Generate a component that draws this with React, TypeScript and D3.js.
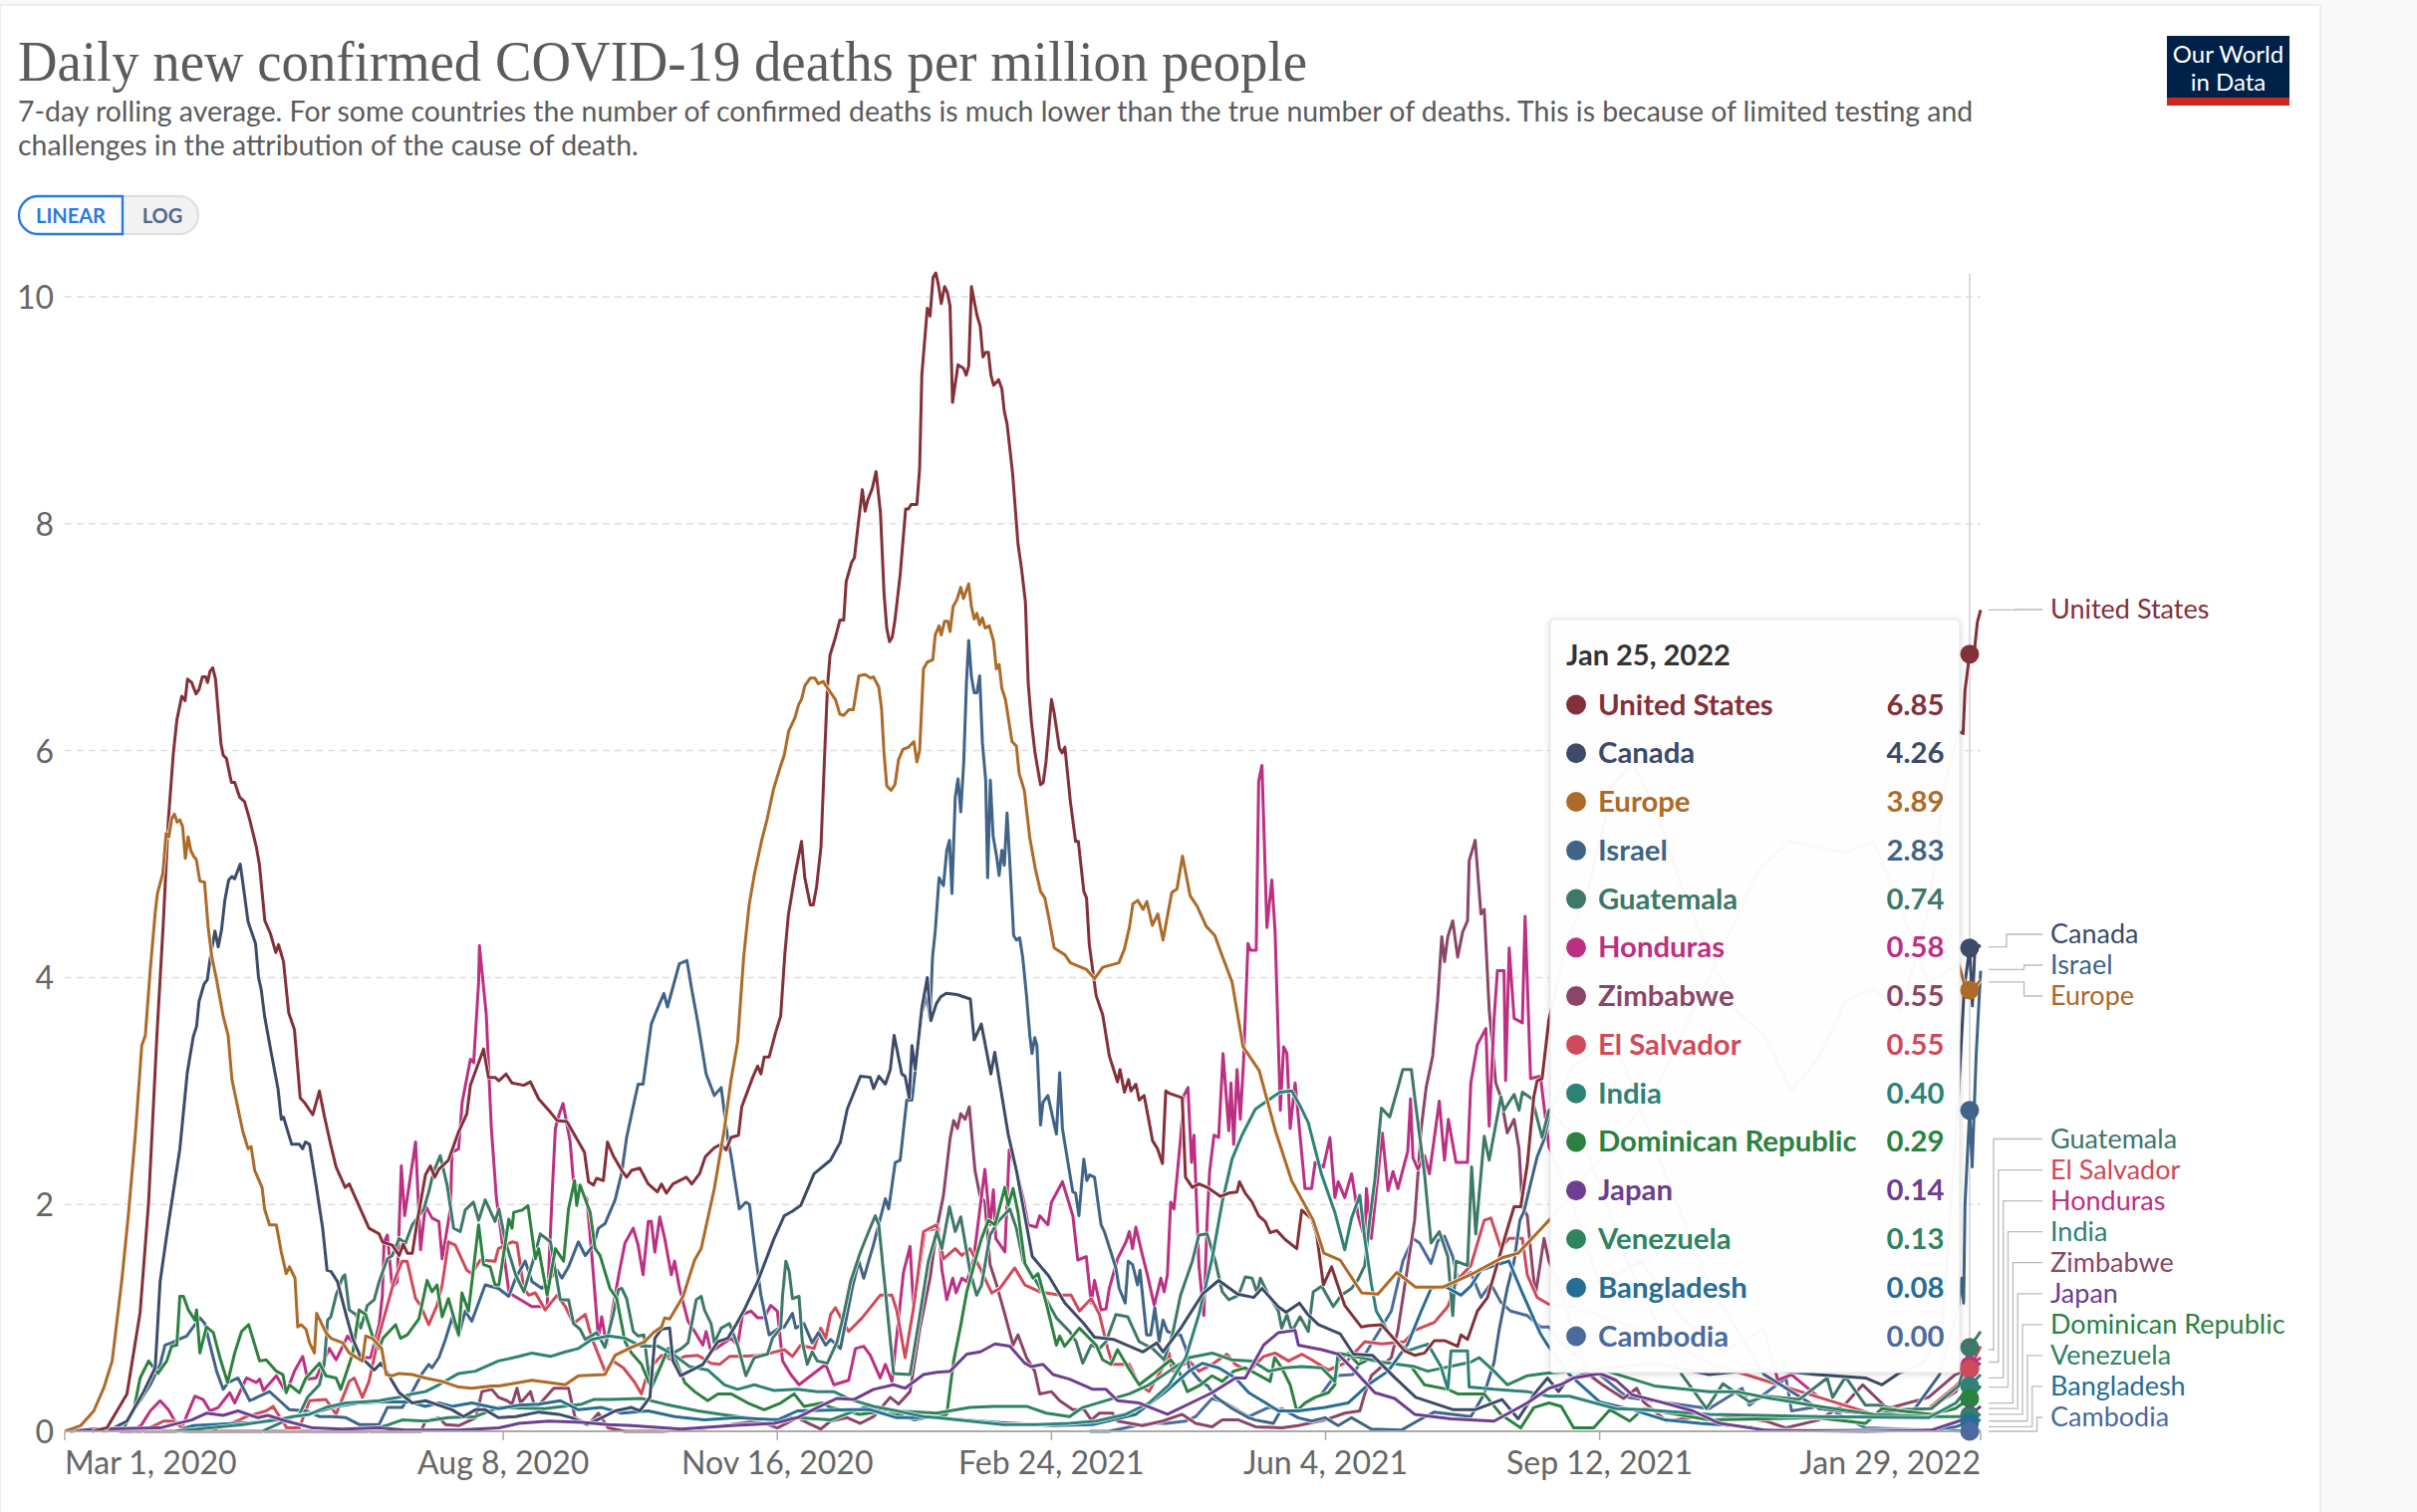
import React from "react";
import * as d3 from "d3";

type Pt = [number, number];

const usValues: Pt[] = [[10,0],[15.4,.03],[22.7,.33],[27.5,1.05],[30.6,2.02],[33.6,3.48],[36,4.5],[37.8,5.39],[39.6,5.97],[40.9,6.27],[42.7,6.48],[43.9,6.44],[44.8,6.63],[46.3,6.6],[47.9,6.5],[49,6.54],[50.2,6.65],[51.4,6.65],[52.1,6.6],[53,6.7],[54,6.73],[55,6.63],[57,6.06],[57.8,5.96],[59,5.93],[60.8,5.72],[62,5.72],[63.8,5.59],[65.6,5.55],[67.5,5.39],[69.9,5.15],[71,5],[73,4.5],[75,4.39],[77,4.22],[78,4.29],[79.8,4.14],[81.7,3.69],[83.8,3.54],[85.9,2.94],[87.4,2.9],[90.5,2.79],[92.9,3],[94.7,2.78],[97.1,2.52],[99,2.33],[102.3,2.15],[103.8,2.18],[111,1.79],[114.7,1.74],[115.9,1.67],[119.5,1.64],[122,1.55],[123.5,1.65],[125,1.57],[126.8,1.57],[128.6,1.85],[131.6,2.26],[133.4,2.34],[135,2.24],[136.5,2.31],[140,2.39],[143.7,2.64],[146.7,2.8],[148,3.05],[152.8,3.37],[154.6,3.12],[157,3.12],[158.4,3.09],[161,3.15],[163.2,3.07],[167.5,3.05],[169.9,3.08],[172.9,2.93],[176.6,2.83],[179.6,2.74],[183.2,2.73],[186.8,2.58],[189.6,2.46],[191.1,2.2],[192.9,2.17],[194,2.23],[196.5,2.21],[198,2.55],[200.1,2.43],[203.2,2.3],[205,2.24],[206.8,2.3],[209.8,2.32],[212.9,2.18],[216.2,2.11],[217.7,2.18],[219.5,2.1],[221.9,2.18],[226.8,2.24],[228.8,2.18],[231.6,2.27],[233.7,2.42],[237,2.5],[239.5,2.53],[241.3,2.48],[243.1,2.59],[245.8,2.61],[247,2.86],[251,3.12],[252.8,3.22],[254,3.15],[255.2,3.3],[257,3.3],[259.4,3.52],[261.2,3.66],[262.7,4.2],[264,4.55],[266.4,4.9],[268.8,5.2],[270,4.88],[272,4.64],[273.1,4.64],[274.3,4.8],[275.9,5.15],[277.3,6],[278.3,6.57],[279.2,6.84],[281.2,7],[282.8,7.15],[284.2,7.15],[285.1,7.49],[287.1,7.66],[288.1,7.7],[289.5,8],[291,8.3],[292,8.11],[293,8.21],[294.6,8.31],[296,8.46],[297.6,8.1],[298.9,7.39],[299.9,7.08],[300.9,6.96],[301.9,7],[302.9,7.15],[304.8,7.55],[306.8,8.13],[307.8,8.13],[308.8,8.17],[310.9,8.17],[311.9,8.49],[312.7,9.31],[314.7,9.9],[315.7,9.83],[316.8,10.17],[317.8,10.21],[318.8,10.1],[319.8,9.94],[321,10.09],[322,10.04],[323,9.92],[323.9,9.07],[325.9,9.4],[327.9,9.37],[328.9,9.31],[329.8,9.39],[330.8,10.09],[332.8,9.84],[334,9.74],[335,9.47],[336,9.51],[337,9.51],[337.9,9.31],[338.9,9.22],[340.7,9.27],[341.9,9.19],[342.8,8.99],[343.8,8.88],[345.8,8.45],[347.8,7.82],[349.1,7.6],[350.5,7.31],[351.5,6.6],[352.7,6.25],[354,5.98],[356,5.7],[357,5.72],[358,5.9],[360,6.45],[361,6.33],[362.9,6.02],[363.9,5.98],[364.9,6.03],[366.9,5.55],[368.8,5.2],[369.8,5.2],[371.8,4.76],[372.8,4.7],[373.8,4.29],[376.3,3.84],[378.7,3.67],[381.1,3.31],[384.1,3.08],[385,3.19],[386.6,2.99],[388.1,3.1],[389,3],[390.8,3.06],[392,2.92],[393.8,2.96],[395.6,2.73],[396.9,2.56],[398.7,2.49],[400.5,2.36],[401.7,3],[402.9,2.98],[407.7,2.94],[408.9,2.24],[411.4,2.15],[413.8,2.18],[416.8,2.15],[421.7,2.07],[424.7,2.1],[427.7,2.11],[428.6,2.2],[430.7,2.1],[433.2,2.02],[435.6,1.9],[438,1.85],[439.8,1.75],[442.2,1.77],[445.3,1.69],[449.5,1.61],[451.3,1.95],[455,1.87],[456.8,1.73],[459.2,1.29],[462.2,1.45],[464,1.32],[467,1.11],[473,.92],[475.5,.93],[480.4,.94],[485.2,.81],[488.8,.71],[492.5,.67],[496.1,.69],[499.7,.8],[503.4,.8],[508.2,.75],[509.4,.85],[511.8,.81],[515.4,1.06],[519.1,1.18],[521.5,1.38],[523.9,1.58],[526.3,1.78],[528.8,1.98],[531.2,1.98],[533.6,2.35],[536,2.95],[537.2,3.09],[539,3.11],[541.5,3.63],[548,4.3],[556,4.8],[565,5.7],[572,5.9],[580,5.5],[590,4.8],[600,4.2],[610,3.7],[620,3.5],[630,3],[640,3.3],[650,3.8],[660,3.9],[670,3.7],[680,4.6],[686,5.7],[691,6.17],[692.6,6.15],[693.3,6.53],[695,6.85],[696.6,6.85],[697.8,7.13],[699,7.24]];

const europeValues: Pt[] = [[0,0],[5.8,.05],[10.6,.18],[14.2,.38],[17.3,.62],[20.9,1.35],[23.3,1.93],[25.7,2.6],[28.1,3.4],[29.4,3.49],[31.2,4.07],[33,4.57],[33.8,4.74],[35.8,4.92],[37,5.27],[38,5.24],[39,5.4],[40,5.44],[41,5.37],[42,5.39],[43,5.33],[44,5.05],[45,5.24],[46,5.12],[47,5.07],[48,5.04],[49.3,4.85],[51,4.84],[52.3,4.45],[53.6,4.19],[55.4,3.98],[57.8,3.66],[59.6,3.49],[61,3.1],[65,2.64],[66.9,2.49],[68,2.51],[69.3,2.3],[72,2.15],[72.9,1.96],[74.7,1.82],[77.2,1.82],[79,1.58],[80.8,1.39],[82,1.45],[84,1.35],[85,.92],[86.2,.94],[88,.9],[89.3,.78],[91.1,.69],[91.9,1.04],[95.3,.87],[97.1,.82],[101.4,.78],[103.8,.69],[108.6,.62],[109.8,.84],[112.2,.82],[115.6,.73],[117.3,.5],[119.5,.49],[122,.51],[126.8,.5],[131.6,.47],[137.6,.44],[143.7,.39],[148.5,.38],[155.8,.4],[158.4,.4],[165.7,.43],[170.5,.45],[176.6,.43],[182.6,.41],[187.4,.49],[197.1,.5],[200.8,.67],[206.8,.74],[211.6,.79],[214.7,.87],[217.7,.92],[218.9,1],[220.7,.99],[225.6,1.19],[229.8,1.51],[232.2,1.61],[237,2.14],[240.7,2.67],[243.1,3.1],[245.5,3.43],[247.7,4.18],[249.7,4.64],[251.7,4.92],[254.2,5.2],[256.2,5.39],[258.6,5.66],[261.1,5.86],[262.5,5.96],[264.1,6.17],[266.4,6.29],[267.8,6.41],[268.8,6.45],[270,6.57],[272,6.64],[273.7,6.64],[274.9,6.59],[276.7,6.61],[278.3,6.55],[281.2,6.45],[282.8,6.32],[284.2,6.31],[286.1,6.36],[287.7,6.36],[289.7,6.66],[292,6.67],[294,6.64],[295,6.65],[297,6.56],[298,6.37],[298.9,5.98],[299.9,5.69],[301.5,5.65],[302.9,5.7],[304.2,5.92],[305.8,6.01],[307.8,6.03],[309.8,6.08],[310.9,5.9],[311.9,6],[313.3,6.72],[314.7,6.78],[316.7,6.8],[317.6,7.02],[319,7.1],[319.8,7.02],[321,7.14],[322.2,7.14],[323,7.05],[324.1,7.27],[325.5,7.33],[326.9,7.44],[327.9,7.34],[329.8,7.47],[330.8,7.27],[331.8,7.16],[332.8,7.21],[333.8,7.11],[334.8,7.17],[335.8,7.08],[337.3,7.1],[338.9,6.96],[339.9,6.72],[340.9,6.76],[341.9,6.55],[343.2,6.45],[345.6,6.08],[347.2,6.04],[348.2,5.8],[350.1,5.65],[352.1,5.23],[354.1,4.96],[356,4.76],[357.6,4.7],[359,4.53],[361,4.26],[364.9,4.2],[366.9,4.13],[372.8,4.07],[375.7,3.99],[378.7,4.09],[384.6,4.13],[386.6,4.25],[388.5,4.45],[389.7,4.65],[391.5,4.68],[393.4,4.6],[394.8,4.67],[396.8,4.46],[398.8,4.56],[400.7,4.33],[403.9,4.75],[405.8,4.78],[407.8,5.07],[410.6,4.72],[413.1,4.63],[416.5,4.45],[419.6,4.37],[422,4.21],[425.9,3.96],[429.9,3.39],[435.8,3.18],[441.7,2.65],[447.6,2.21],[455.5,1.86],[459.4,1.57],[465.3,1.51],[473.2,1.22],[479.1,1.21],[486,1.4],[492.9,1.27],[502.7,1.27],[514.5,1.4],[524.4,1.53],[530.3,1.57],[539.2,1.8],[545,1.95],[560,2.4],[580,3],[600,4],[618,4.95],[629,5.2],[640,5.15],[650,5.1],[660,5.2],[670,4.6],[680,3.95],[691,4.12],[693,3.95],[695,3.89],[697,3.92],[699,3.98]];

const canadaValues: Pt[] = [[14,0],[17.9,.03],[22.7,.09],[28.8,.35],[33,.56],[34.8,1.32],[37.2,1.73],[39.6,2.11],[42,2.49],[44.7,3.16],[46.9,3.48],[48.1,3.57],[49,3.79],[50.8,3.94],[52,3.98],[53.2,4.19],[54.8,4.41],[56,4.27],[57.2,4.42],[58.4,4.68],[59.8,4.86],[61,4.89],[62,4.87],[64,5],[65,4.83],[66.9,4.49],[69.6,4.3],[70.7,4],[71.7,3.89],[72.9,3.66],[75.3,3.34],[77.8,3.02],[79,2.75],[79.8,2.77],[82.8,2.53],[85.6,2.53],[86.8,2.49],[87.8,2.55],[89.3,2.53],[91.7,2.17],[94.1,1.79],[95.7,1.42],[97.1,1.41],[99.5,1.32],[102.6,1.03],[105,.82],[108,.65],[110.4,.6],[112.9,.54],[115.3,.6],[117.7,.52],[119.5,.44],[122,.34],[126.8,.25],[131.6,.27],[137.6,.22],[141.3,.19],[145.5,.13],[149.8,.19],[153.4,.19],[158.2,.12],[164.5,.13],[173,.17],[180.2,.15],[185,.12],[190.5,.06],[195.9,.12],[200.8,.18],[206.8,.21],[209.8,.18],[213.5,.3],[214.3,.53],[215.3,.82],[217.7,.9],[220.7,.91],[221.9,.62],[224.7,.49],[228,.53],[232.8,.59],[238.3,.79],[241.9,.82],[244.9,.94],[247.9,1.07],[252.8,1.32],[258.8,1.7],[262.5,1.9],[265.5,1.94],[268.5,1.99],[273.4,2.27],[279.4,2.39],[283,2.55],[285.5,2.84],[290.3,3.13],[293.9,3.12],[295.1,3.02],[297,3.13],[299.4,3.06],[301.2,3.19],[302.6,3.49],[305.4,3.15],[306.6,3.13],[308.1,2.94],[309.1,3.4],[310.3,3.19],[312.7,3.73],[314.7,4],[316,3.62],[318,3.77],[319.6,3.83],[321.6,3.86],[325.5,3.85],[330.4,3.81],[331.8,3.45],[334.4,3.59],[337.9,3.15],[339.3,3.34],[344.2,2.62],[347.2,2.3],[353,1.54],[359,1.37],[364.9,1.13],[371.8,.95],[375.7,.83],[382.6,.81],[388.5,.75],[393.4,.7],[398.4,.78],[400.7,.7],[407.2,.91],[415.1,1.21],[421,1.33],[427.9,1.21],[433.8,1.18],[436.8,1.26],[442.7,1.1],[445.6,1.05],[450.5,1.13],[453.5,1.03],[457.4,.94],[465.3,.86],[470.2,.68],[477.1,.67],[485,.48],[492.9,.3],[506.7,.19],[514.5,.19],[524.4,.28],[530.3,.11],[536.2,.33],[541,.47],[545,.35],[548,.45],[560,.55],[580,.6],[600,.5],[620,.55],[639,.5],[657,.47],[663,.41],[669,.51],[678,.6],[685,.9],[691,3],[693,3.9],[695,4.26],[696,3.75],[697,4.3],[699,4.27]];

const israelValues: Pt[] = [[20,0],[27.5,.27],[31.2,.41],[34.8,.59],[36.6,.76],[39,.78],[41.5,.81],[44.5,.84],[46.3,.9],[49.3,1],[51.1,.95],[53,.76],[55.4,.53],[57.8,.37],[59.6,.43],[63.2,.47],[67.5,.27],[71.1,.31],[74.7,.35],[78.4,.27],[82,.19],[88,.18],[92.9,.13],[97.7,.13],[102.6,.12],[107.4,.06],[114.7,.06],[117.7,.21],[123.1,.21],[126.8,.35],[130.4,.51],[132.8,.59],[134,.56],[136.5,.65],[138.9,.81],[141.3,1],[143.7,.84],[146.1,1.06],[148.5,.97],[153.4,1.29],[158.2,1.26],[162,1.19],[164.5,1.35],[168,1.5],[170.5,1.32],[174.1,1.26],[179.6,1.42],[181.4,1.35],[183.8,1.45],[187.4,1.67],[189.9,1.55],[192.9,1.64],[194.7,1.79],[197.1,1.83],[200.8,2.04],[203.2,2.28],[205,2.59],[208,2.93],[209.2,3.06],[211,3.06],[214,3.59],[215.8,3.7],[218.6,3.86],[219.9,3.74],[224.2,4.12],[227,4.15],[228.8,3.89],[231,3.6],[234,3.15],[237,2.96],[239.5,3.03],[241.9,2.58],[243.1,2.43],[246.1,1.96],[248.5,2.02],[249.8,2],[252.2,1.52],[254,1.2],[257,.85],[260,.9],[262.5,.92],[265.5,1.04],[266.7,.91],[269.7,.95],[272.7,.78],[275,.87],[277.6,.76],[279.4,.81],[283,.73],[287.3,1.26],[289.7,1.5],[291.5,1.35],[295,1.64],[299.4,2.05],[300.6,1.96],[303,2.37],[304.8,2.39],[307.2,2.92],[309.1,2.92],[310.9,3.31],[312.7,3.69],[314.5,3.84],[315.7,3.63],[316.6,4.18],[317.6,4.41],[319,4.88],[320.6,4.81],[321.8,5.12],[322.8,5.21],[323.7,4.74],[324.9,5.59],[325.9,5.75],[326.9,5.46],[328,5.9],[329,6.61],[329.8,6.97],[330.8,6.65],[331.8,6.51],[332.8,6.51],[333.8,6.66],[334.8,6.07],[336,5.74],[336.7,4.88],[337.7,5.74],[338.7,5.25],[339.9,5.08],[340.9,4.9],[341.9,5.12],[342.8,4.99],[343.8,5.45],[345.2,4.84],[346.2,4.37],[347.2,4.33],[348.4,4.35],[349.5,4.18],[350.9,3.84],[352.1,3.49],[352.9,3.33],[353.9,3.47],[354.7,3.4],[356,2.7],[356.9,2.9],[358.7,2.96],[361.8,2.62],[363,3.16],[364,2.67],[366,2.37],[367.8,2.11],[368.8,2.1],[370,1.9],[371.8,2.4],[372.9,2.21],[373.9,2.26],[375.7,2.24],[378.1,1.82],[379.3,1.76],[383.5,1.44],[384.7,1.26],[386.9,1.13],[388,1.5],[389.6,1.47],[391.4,1.29],[392.3,1.42],[394.7,.85],[396.2,.85],[397.7,1.09],[399.3,.79],[400.7,.98],[402.3,.88],[405.9,.85],[407.1,.85],[409,.73],[410.2,.56],[414,.45],[417,.4],[420,.3],[426,.2],[432,.12],[434.4,.1],[441,.07],[444,.2],[450,.12],[455,.09],[459.8,.12],[464.6,.05],[469.5,.12],[476.7,.02],[487.6,.01],[494.9,.11],[499.7,.17],[513,.13],[517.9,.33],[521.5,.61],[523.3,.89],[526.3,1.26],[528.8,1.5],[530.9,1.86],[532.4,1.94],[534.8,2.18],[537.2,2.42],[539.7,2.57],[542,2.83],[550,3.2],[565,3.5],[580,2.5],[600,1.3],[620,.5],[640,.2],[660,.15],[675,.2],[684,.5],[691,1.11],[692.1,1.35],[692.8,1.13],[693.3,2],[695,2.83],[695.9,2.33],[697.4,3.33],[699,4.06]];

const guatemalaValues: Pt[] = [[72,0],[85.6,.15],[88.6,.3],[92.9,.41],[94.7,.6],[95.9,.98],[97.1,1.01],[99,1.2],[101.4,1.36],[102.2,1.38],[103.8,1.07],[106.2,1.03],[108,.91],[110.4,1.11],[112.9,1.16],[114.7,1.32],[117.7,1.52],[119.5,1.55],[122,1.7],[124.3,1.66],[126.8,1.82],[131,1.96],[132.8,2.11],[134.6,2.29],[137,2.43],[139.5,2.17],[141.9,1.79],[144.3,1.76],[146.1,1.95],[149.1,2.02],[151,1.86],[153.4,2.04],[157,1.85],[158.4,1.96],[160.8,1.67],[164.5,1.38],[167.5,1.23],[171.1,1.52],[173.5,1.74],[177.2,1.67],[179,1.41],[180.8,1.16],[183.8,1.16],[185.6,.95],[188,.9],[189.9,.81],[194.1,.87],[197.1,.74],[200.1,1.03],[202,1.25],[203.2,1.26],[205,1.17],[207.4,.88],[209.2,.84],[211.3,.85],[213.5,.41],[219,.65],[225,.73],[227.4,.78],[230.4,1.16],[232.2,1.19],[233.4,1.07],[235.8,.95],[237,.78],[239.5,.91],[242.5,.95],[245.5,.76],[248.5,.49],[251.6,.65],[256.4,.68],[258.2,.82],[261.2,.91],[261.9,1.2],[263.1,1.5],[264.3,1.41],[265.5,1.17],[267.9,1.19],[269.1,.79],[270.9,.59],[272.7,.7],[274.6,.62],[278.2,.6],[281.8,.79],[284.2,1.03],[286.7,1.32],[290.3,1.58],[293.3,1.76],[295.7,1.9],[297,1.82],[302.4,.51],[308.4,.5],[311.5,.95],[315.1,1.5],[318.2,1.76],[320,1.61],[322.8,1.98],[324.9,1.76],[326.9,1.89],[330.3,1.41],[332.7,1.2],[334.5,1.29],[337.6,1.73],[340.6,1.85],[344.8,1.96],[347.2,1.79],[349.7,1.5],[354.5,1.32],[361.8,1],[366.6,.88],[369,.79],[371.4,.6],[374.5,.76],[377.5,.73],[379.9,.79],[383.5,1.03],[387.8,1.01],[392,.79],[396.9,.73],[401.1,.63],[404.1,.85],[407.1,1.2],[411.4,1.5],[413.8,1.73],[416.8,1.74],[419.8,1.5],[422.3,1.23],[424.7,1.16],[428.3,1.2],[430.7,1.36],[433.2,1.35],[435,1.22],[436.2,1.35],[439.2,1.2],[442.8,1.06],[444,.91],[445.9,1.03],[447.7,.88],[450.7,1.01],[453.7,.88],[455.5,1.23],[458.6,1.28],[462.8,1.1],[465.8,1.2],[469.5,1.26],[471.9,1.34],[474.3,1.46],[476.1,1.86],[478,2.22],[480.4,2.85],[483.4,2.77],[486.4,3.03],[488.2,3.19],[491.3,3.19],[492.5,2.95],[496.1,2.27],[498.5,1.66],[501.5,1.76],[504.6,1.54],[506.4,1.02],[507.6,1.5],[511.8,1.46],[513.3,2.33],[514.8,1.74],[517.9,2.6],[519.7,2.39],[524,2.95],[525.1,2.83],[528.8,2.97],[530.6,2.83],[531.8,2.99],[535.4,2.93],[539,2.59],[541.5,2.83],[555,2.5],[570,1.5],[590,.5],[599,.2],[605,.42],[614.6,.26],[620.7,.31],[632.8,.28],[643,.47],[645,.3],[649.7,.48],[657,.23],[661.8,.23],[669,.19],[681,.2],[691,.4],[695,.74],[699,.88]];

const hondurasValues: Pt[] = [[25,0],[28.1,.06],[31.2,.18],[34.8,.27],[37.8,.19],[40.2,.09],[43,.05],[47.5,.31],[50.5,.28],[53,.18],[56,.21],[60.2,.34],[62,.25],[66.3,.47],[69.9,.43],[71.1,.46],[72.5,.36],[77.2,.49],[80.8,.34],[83.8,.53],[86.8,.66],[88.6,.46],[91.7,.47],[96.5,.73],[99,.63],[103.2,.84],[106.2,.75],[108.6,.65],[111.6,.65],[114.7,.94],[115.9,1.2],[116.5,1.67],[117.7,1.73],[119.5,1.26],[121.3,1.32],[122.8,2.34],[124,1.9],[128,2.55],[129.8,1.6],[131.6,1.99],[134,1.88],[136.5,1.85],[137.7,1.52],[140.7,1.96],[141.3,2.46],[143.7,2.49],[145,2.9],[148,3.28],[149.2,3.25],[151,3.96],[151.3,4.28],[153.8,3.67],[155.6,2.69],[157.5,2.05],[162.1,1.22],[170.4,1.1],[176,1.1],[177.8,2.08],[179,2.67],[180.2,2.78],[181.8,2.89],[184.4,2.55],[185.6,2.2],[190.5,2.05],[192.3,1.55],[194.7,.82],[195.9,1.01],[197.7,.76],[200.8,1.2],[202.6,1.44],[204.4,1.66],[207.4,1.79],[209.2,1.64],[211,1.38],[212.9,1.85],[214,1.85],[215.3,1.58],[217.1,1.89],[218.9,1.7],[221.3,1.38],[222.5,1.5],[224.3,1.26],[227.4,.97],[229.8,.88],[232.8,.76],[234,.88],[235.8,.7],[243.1,.82],[245.5,.76],[247.3,1.03],[250.4,1.06],[252.8,1],[255.2,1],[257.6,1.11],[260,1.06],[261.9,.62],[264.9,.5],[267.9,.41],[277.6,.59],[280.6,.41],[286,.45],[288.5,.73],[291.5,.75],[293.9,.67],[297.5,.47],[299.4,.59],[301.8,.44],[306,1.4],[308.4,1.63],[309.7,1.09],[313.9,1.77],[318.8,1.79],[320,1.43],[321.8,1.16],[324,1.35],[325.2,1.22],[327.3,1.35],[329.1,1.32],[331.5,1.5],[333.9,1.96],[335.7,2.31],[337.6,1.82],[338.8,2.13],[339.7,1.7],[343,1.58],[344.6,2.48],[347.2,2.31],[349.7,2.05],[351.5,1.82],[354.5,1.8],[355.7,1.9],[358.7,1.82],[360,2.02],[364,2.2],[367.8,1.9],[369.6,1.51],[372.7,1.54],[374.5,1.13],[375.7,1.33],[378.1,1.07],[379.9,1.08],[381.1,1.26],[384.1,1.52],[387.2,1.67],[388.4,1.76],[389.6,1.61],[390.8,1.8],[393.2,1.55],[395,1.38],[397.5,1.11],[399.9,1.35],[401.1,1.23],[402.3,1.38],[403.5,2.02],[404.7,1.96],[407.1,2.58],[408.3,2.96],[409.8,3.03],[411.1,2.37],[412,2.61],[413.8,1.46],[415.6,1.02],[416.8,1.86],[417.7,2.29],[419.3,2.61],[421,2.59],[422.6,3.33],[424.7,2.65],[425.5,3.07],[426.5,2.53],[427.7,3.19],[428.9,2.75],[430.1,3.27],[431.7,4.3],[432.6,4.24],[434.7,4.24],[435.6,5.73],[436.8,5.87],[438.6,4.44],[440.4,4.86],[441.6,4.4],[443.5,2.83],[444.7,3.39],[445.9,3.33],[447.1,2.67],[448.9,3.07],[452.5,2.14],[454.9,2.14],[456.2,2.37],[459.2,2.33],[461.6,2.59],[463.4,2.06],[464.6,2.2],[467,2.06],[469.5,2.27],[471.9,1.9],[474.3,1.7],[474.9,2.14],[476.7,1.7],[479.2,2.27],[480.7,2.63],[482.8,2.12],[484.6,2.29],[486.4,2.14],[490,2.47],[491,2.93],[491.9,2.41],[493.7,2.31],[496.1,2.43],[497.9,2.27],[501.5,2.91],[503.4,2.39],[504.8,2.75],[507.6,2.37],[511.8,2.37],[513,3.07],[515.4,3.41],[518.5,3.55],[519.7,2.69],[521.5,3.64],[522.7,4.06],[525.1,4.06],[525.7,3.09],[527,4.26],[528.8,3.64],[531.8,3.6],[532.8,4.54],[534.8,3.11],[538.4,3.13],[541.5,2.51],[550,2],[560,1.3],[575,1.5],[590,1],[605,.7],[620,.9],[625,.45],[630,.5],[640,.3],[660,.15],[680,.2],[690,.35],[695,.58],[699,.65]];

const zimbabweValues: Pt[] = [[20,0],[130,0],[131.6,.09],[136.5,.12],[138.9,.06],[143.7,.05],[150,.12],[152.2,.35],[155.8,.37],[158.2,.3],[161.4,.27],[163.2,.24],[165,.38],[166.3,.25],[169.9,.35],[171.7,.2],[178.4,.38],[183.8,.38],[186.2,.12],[191,.06],[194.7,.16],[198.3,.03],[204.4,0],[218,0],[231,.02],[243,.06],[252.8,.09],[260,.03],[267.3,.12],[272.2,.06],[275.8,.02],[279.4,.09],[285.5,.12],[290.3,.07],[295.1,.13],[301.2,.3],[304.2,.24],[308.4,.35],[312,.91],[315.7,1.35],[318.2,1.79],[320.6,2.08],[323,2.58],[324.3,2.74],[325.7,2.67],[326.9,2.8],[328.5,2.75],[330,2.86],[332.1,2.3],[333.9,2.08],[335.7,2.02],[337.6,1.47],[340,1.29],[343,1.03],[346,.76],[347.8,.85],[350.9,.65],[353.9,.53],[355.7,.33],[360,.35],[363,.27],[367.8,.19],[372,.19],[374.5,.1],[377.5,.16],[382.3,.16],[384.1,.09],[393.2,.05],[400.5,.09],[407.7,.15],[412.6,.07],[418.6,.04],[422.3,.1],[428.3,.1],[434.4,.04],[444,.03],[450,.05],[459.8,.1],[467,.16],[472.5,.18],[474.3,.33],[476.7,.49],[480.4,.57],[484,.65],[486.4,.89],[490,1.46],[492.5,1.86],[494.9,2.67],[496.7,3.03],[499.1,3.31],[500.9,3.8],[502.4,4.36],[503.4,4.14],[504.6,4.36],[506.4,4.5],[508.2,4.18],[510,4.4],[511.8,4.5],[512.4,5.03],[514.6,5.21],[516.7,4.56],[517.9,4.6],[519.7,3.72],[522.1,3.07],[523.9,2.95],[526.3,2.63],[528.8,2.75],[530.6,2.49],[531.8,1.98],[533.6,1.9],[535.4,1.46],[536.6,1.2],[539.7,1.7],[541.5,1.5],[545,1.3],[550,.9],[556,.5],[561,.41],[568.7,.29],[573.5,.38],[576,.26],[584.4,.09],[602.6,.15],[620.7,.09],[628,.03],[640,.1],[650,.25],[656,.41],[665,.2],[680,.3],[689.7,.5],[695,.55],[699,.6]];

const elSalvadorValues: Pt[] = [[28,0],[33.6,.06],[36,.09],[39.6,.09],[43,.03],[55,.02],[63.8,.1],[66.3,.13],[73.5,.18],[76,.22],[81,.03],[85.6,.03],[89.3,.27],[95.3,.28],[99,.15],[103.8,.44],[105.6,.47],[108.6,.3],[111,.44],[114.7,.85],[117.7,1.11],[120.1,1.32],[123.1,1.5],[124.9,1.5],[128,1.17],[129.8,1.11],[132.8,.94],[135.8,1.11],[137.7,1.29],[140,1.67],[142.5,1.64],[146.7,1.42],[148.5,1.39],[151.6,1.51],[157,1.5],[158.2,1.61],[163.2,1.67],[165,1.66],[167.5,1.26],[169.3,1.2],[171.7,1.22],[175.3,1.07],[179.6,1.2],[182.6,1.1],[185.6,.95],[189.9,1.03],[192.3,.82],[197.1,.53],[200.1,.62],[203.8,.56],[208,.43],[210.4,.33],[212.9,.54],[217.7,.67],[222.5,.62],[226.2,.66],[231,.67],[235.8,.6],[238.9,.59],[242.5,.66],[246.7,.66],[252.8,.67],[257.6,.69],[262.5,.72],[265.5,.66],[268.5,.76],[273.4,.73],[275.8,.91],[277.6,.82],[279.4,1.03],[281.2,1.09],[283.6,.98],[286,.88],[290.9,1],[297.5,1.2],[301.8,1.2],[303.6,1.06],[306.6,.65],[309.7,1.09],[313.3,1.76],[318.1,1.82],[320.6,1.52],[324.9,1.61],[327.3,1.55],[330.3,1.61],[333.9,1.44],[338.2,1.22],[341.2,1.26],[346.6,1.44],[350.3,1.29],[355.7,1.23],[363,1.2],[367.2,1.2],[370.2,1.06],[374.5,1.17],[377.5,1.03],[380.5,.73],[382.3,.59],[388.4,.59],[392,.41],[395.6,.35],[400.5,.56],[402.9,.69],[404.1,.53],[410.2,.62],[413.8,.53],[418.6,.59],[424,.68],[427.1,.59],[432,.53],[437.4,.66],[441.6,.69],[446.5,.62],[451.3,.68],[455,.63],[461,.54],[467,.6],[474.3,.79],[480.4,.77],[488.8,.79],[492.5,.89],[499.7,.96],[504.6,1.1],[508.2,1.34],[513,1.46],[517.9,1.86],[520.3,1.88],[523.9,1.62],[526.9,1.7],[531.8,1.7],[533.6,1.38],[537.2,1.18],[541.5,1.12],[550,1.1],[575,.9],[600,.6],[620,.45],[640,.3],[660,.15],[680,.2],[690,.4],[695,.55],[699,.75]];

const indiaValues: Pt[] = [[40,0],[52.9,.03],[65,.06],[77.2,.1],[83.2,.13],[89.3,.15],[95.3,.21],[102.6,.25],[108.6,.26],[114.7,.27],[122,.3],[126.8,.33],[131.6,.35],[136.5,.41],[143.7,.51],[149.8,.53],[158.2,.62],[165.7,.66],[170.5,.69],[177.2,.66],[182.6,.7],[187.4,.73],[192.3,.81],[198.3,.84],[204.4,.82],[210.4,.75],[216.5,.75],[222.5,.67],[228,.57],[234.6,.54],[240.7,.41],[245.5,.37],[251.6,.41],[258.8,.36],[267.3,.37],[274.6,.35],[280.6,.35],[286.7,.28],[295.1,.22],[303.6,.18],[313.3,.13],[318.1,.12],[330.3,.09],[342.4,.06],[354.5,.06],[366.6,.07],[376.3,.09],[387.2,.15],[395.6,.25],[402.9,.41],[409,.65],[413.8,1.03],[418.6,1.52],[422.3,2.02],[425.9,2.4],[429.5,2.61],[434.4,2.84],[437.4,2.89],[441.6,2.96],[443.4,2.99],[447.7,3],[450.7,2.87],[453.7,2.72],[458.6,2.26],[463.4,1.93],[467,1.6],[469.5,1.88],[472.5,2.08],[474.3,1.7],[476.7,1.3],[478.5,1.06],[484,.83],[490,.71],[497.3,.77],[502.1,.57],[504.6,.37],[505.8,.71],[511.8,.71],[512.4,.39],[521.5,.37],[533.6,.35],[541.5,.31],[549,.31],[566,.2],[576,.19],[600,.15],[640,.13],[680,.12],[690,.25],[695,.4],[699,.5]];

const dominicanValues: Pt[] = [[15,0],[21.5,.03],[25.1,.18],[27.5,.47],[30.6,.62],[34,.51],[37.2,.62],[39,.75],[40.9,.76],[42,1.19],[43.3,1.19],[45.1,1.07],[47.5,.98],[48.1,1.07],[49.3,.69],[51.7,.92],[54.2,.87],[56.6,.65],[59.4,.43],[62,.69],[64.5,.88],[67.1,.94],[71.1,.62],[73.5,.63],[77.2,.53],[79.6,.5],[80.8,.34],[82,.41],[85.6,.34],[88,.47],[92.9,.6],[95.3,.49],[99,.47],[100.7,.37],[105,.68],[107.4,1.07],[109.8,1.03],[112.9,.79],[114.7,.73],[116.1,.82],[120.7,.94],[122.5,.82],[125,.85],[129.2,.99],[132.2,1.33],[134,1.23],[135.8,1.29],[137.7,1.01],[140,1.17],[143.7,.85],[144.9,1.22],[147.3,1.06],[151,1.82],[152.8,1.47],[155.2,1.45],[157,1.29],[158.4,1.29],[160.8,1.67],[162,1.87],[163.2,1.79],[163.8,1.93],[166.9,1.95],[169,1.99],[171.7,1.52],[172.9,1.61],[176,1.2],[179,1.61],[182,1.5],[183.8,1.96],[186,2.21],[186.8,1.99],[188,2.17],[191.7,1.93],[193.5,1.61],[195.3,1.55],[198.9,1.26],[201.4,1.17],[204.4,.79],[206.8,.69],[210.4,.59],[214,.38],[217.7,.59],[220.1,.73],[222.5,.65],[226.2,.43],[229.8,.35],[234.6,.27],[238.3,.33],[243.1,.33],[249.2,.25],[255.2,.19],[261.2,.25],[266.1,.33],[269.7,.22],[276.4,.25],[279.4,.21],[290,.15],[300,.18],[310,.1],[321.8,.15],[324.3,.62],[326.7,.91],[329.1,1.23],[332.7,1.55],[334.5,1.7],[337,1.86],[339.4,1.82],[343,2.15],[344.2,1.99],[346,2.14],[347.8,1.93],[350.3,1.48],[353.3,1.35],[355.1,1.39],[358.1,1.13],[361.8,.76],[363,.84],[364.8,.75],[370.2,.91],[376.3,.76],[378.7,.63],[381.7,.59],[384.1,.72],[387.8,.57],[392,.41],[396.9,.5],[403.5,.63],[406.5,.53],[409.6,.35],[414.4,.41],[418.6,.49],[422.3,.44],[426.5,.53],[430.7,.56],[439.8,.44],[441.4,.65],[444,.56],[447.1,.41],[449.5,.18],[452.5,.25],[456.1,.3],[461,.34],[463.4,.41],[464.6,.62],[468.2,.69],[472,.59],[475.5,.63],[491.3,.57],[496.1,.41],[504.6,.37],[508.2,.33],[517.9,.33],[523.9,.15],[531.2,.03],[536,.21],[541.5,.25],[546,.22],[550.5,.03],[557.8,.03],[563.8,.19],[571,.09],[576,.2],[600,.1],[639,.12],[657,.07],[663,.2],[681,.15],[689.7,.2],[695,.29],[699,.4]];

const japanValues: Pt[] = [[2,0],[10.6,.02],[34.8,.03],[39.6,.06],[46.3,.1],[51.7,.16],[57.8,.14],[63.2,.18],[70.5,.12],[74.1,.14],[80.8,.09],[90.5,.03],[101.4,.02],[114.7,.03],[124.3,.01],[143.7,.01],[158.4,.03],[165.7,.07],[176.6,.09],[188.7,.08],[198.3,.06],[206.8,.05],[225,.02],[243.1,.05],[258.8,.07],[267.3,.12],[274.6,.21],[281.8,.29],[287.9,.28],[295.1,.37],[302.4,.41],[306.6,.38],[313.3,.5],[318.1,.52],[323,.53],[329.1,.68],[334,.7],[339.4,.77],[344.8,.75],[350.3,.6],[352.7,.57],[356.9,.59],[360.6,.5],[366.6,.46],[375.1,.37],[379.9,.37],[384.1,.27],[392,.25],[402.3,.15],[412.6,.27],[418.6,.34],[427.1,.47],[430.7,.47],[437.4,.76],[442.8,.87],[448.9,.89],[450.1,.76],[458.6,.72],[464.6,.68],[470.7,.53],[478,.34],[485.2,.29],[492.5,.15],[505.8,.11],[521.5,.09],[533.6,.25],[541.5,.38],[545.7,.41],[550.5,.47],[560,.51],[566,.45],[572,.32],[582,.26],[594,.18],[603.8,.07],[620.7,.01],[657,0],[681,.01],[691,.09],[695,.14],[699,.22]];

const venezuelaValues: Pt[] = [[110,0],[117.1,.05],[123.1,.1],[131.6,.09],[140,.12],[149.8,.13],[158.4,.21],[175,.2],[188.7,.24],[192.9,.28],[199.5,.28],[210.4,.29],[218.9,.24],[231,.18],[239.5,.15],[255.2,.1],[267.3,.12],[279.4,.1],[291.5,.21],[303.6,.18],[318.1,.16],[330.3,.21],[338.8,.22],[350.9,.22],[358.1,.16],[366.6,.13],[371.4,.21],[381.1,.28],[388.4,.33],[395.6,.41],[402.9,.53],[410.2,.65],[418.6,.69],[425.9,.63],[433.2,.62],[439.2,.53],[445.3,.56],[451.3,.57],[458.6,.56],[463.4,.44],[464.6,.69],[473,.65],[480.4,.61],[492.5,.57],[497.3,.53],[513,.61],[516,.65],[521.5,.53],[526.3,.41],[533.6,.49],[539.6,.51],[560,.55],[580,.4],[600,.35],[610,.35],[620,.3],[640,.22],[660,.15],[680,.13],[695,.13],[699,.15]];

const bangladeshValues: Pt[] = [[40,0],[46.9,.05],[71,.08],[83.2,.13],[90.5,.16],[99,.22],[107.4,.25],[114.7,.26],[125.6,.26],[131.6,.22],[136.5,.25],[141.3,.22],[148.5,.25],[158.3,.2],[165.7,.23],[173,.24],[180.8,.27],[187.4,.19],[195.9,.21],[203.2,.16],[212.9,.18],[222.5,.13],[233.4,.1],[245.5,.12],[260,.1],[267.3,.18],[286.7,.19],[293.9,.19],[303.6,.12],[318.1,.12],[340,.08],[360.6,.05],[375,.06],[390.8,.15],[401.7,.35],[410.2,.53],[415,.6],[421,.56],[427.1,.47],[432,.34],[436.8,.27],[442.8,.18],[450.1,.18],[459.8,.21],[468.2,.25],[475.5,.41],[482.8,.53],[490,.77],[494.9,1.06],[498.5,1.26],[503.4,1.28],[509.4,1.2],[513,1.28],[516.7,1.42],[521.5,1.46],[526.9,1.5],[531.8,1.22],[538.4,.86],[541,.76],[549,.5],[560,.26],[572,.19],[584,.1],[596.5,.07],[614.6,.04],[620,.01],[680,.01],[690,.04],[695,.08],[699,.1]];

const cambodiaValues: Pt[] = [[374,0],[381,0],[390.8,.05],[396.9,.07],[402,.07],[409,.09],[412.6,.13],[418.6,.29],[423.5,.25],[432,.13],[439.2,.21],[447.7,.17],[458.6,.33],[463.4,.49],[470,.5],[476.7,.77],[484,1.06],[488.2,1.5],[491.9,1.7],[494.3,1.66],[498.5,1.48],[501,1.68],[503.4,1.72],[506.4,1.54],[508.2,1.34],[513,1.4],[516.7,1.18],[520.3,1.3],[523.9,1.14],[527.5,1.06],[533.6,1.02],[538.4,.92],[541.5,.92],[545,.8],[555,.6],[570,.3],[585,.25],[600,.2],[612,.38],[614.6,.23],[628,.47],[630,.18],[640,.22],[645,.18],[657,.03],[680,.01],[695,0],[699,0]];

const seriesNames = ["Cambodia","Zimbabwe","Honduras","El Salvador","Israel","Guatemala","Dominican Republic","Venezuela","Bangladesh","India","Canada","Japan","United States","Europe"];
const seriesData: Pt[][] = [cambodiaValues,zimbabweValues,hondurasValues,elSalvadorValues,israelValues,guatemalaValues,dominicanValues,venezuelaValues,bangladeshValues,indiaValues,canadaValues,japanValues,usValues,europeValues];
const seriesColors: Record<string,string> = {
  "United States":"#843039","Canada":"#3C4B69","Europe":"#AD6A28","Israel":"#3F6488","Guatemala":"#3D7868","Honduras":"#BC3084","Zimbabwe":"#8C4569","El Salvador":"#CF4A5A","India":"#2E8278","Dominican Republic":"#2C8140","Japan":"#6D3E91","Venezuela":"#2E8460","Bangladesh":"#286D94","Cambodia":"#4C6A9C"
};

const tooltipDate = "Jan 25, 2022";
const tooltipNames = ["United States","Canada","Europe","Israel","Guatemala","Honduras","Zimbabwe","El Salvador","India","Dominican Republic","Japan","Venezuela","Bangladesh","Cambodia"];
const tooltipValues = [6.85,4.26,3.89,2.83,.74,.58,.55,.55,.40,.29,.14,.13,.08,0];
const tooltipDay = 695;

const xTickDays = [0,160,260,360,460,560,699];
const xTickLabels = ["Mar 1, 2020","Aug 8, 2020","Nov 16, 2020","Feb 24, 2021","Jun 4, 2021","Sep 12, 2021","Jan 29, 2022"];
const yTicks = [0,2,4,6,8,10];

const labelNames = ["United States","Canada","Israel","Europe","Guatemala","El Salvador","Honduras","India","Zimbabwe","Japan","Dominican Republic","Venezuela","Bangladesh","Cambodia"];
const labelEndValues = [7.24,4.27,4.07,3.96,.72,.61,.47,.39,.25,.2,.15,.09,.04,0];

const W = 2426, H = 1518;
const x = d3.scaleLinear().domain([0,699]).range([65,1988]);
const y = d3.scaleLinear().domain([0,10]).range([1437,298]);
const line = d3.line<Pt>().x(d=>x(d[0])).y(d=>y(d[1])).curve(d3.curveLinear);

const labelY = d3.scaleLinear().domain([4,13]).range([1143.5,1423]);
const topLabelY = [612,938,969,1000];
const elbowTop = [2023,2014,2031.6,2031.6];
const elbowLow = d3.scaleLinear().domain([4,13]).range([2001,2044.6]);
const rowY = d3.scaleLinear().domain([0,13]).range([707.5,1341.5]);

const lato = "Lato, sans-serif";

export default function App(){
  return (
    <svg width={W} height={H} viewBox={`0 0 ${W} ${H}`} style={{position:"absolute",left:0,top:0,display:"block"}}>
      <defs>
        <filter id="ttShadow" x="-5%" y="-5%" width="110%" height="110%">
          <feDropShadow dx="0" dy="1" stdDeviation="3" floodColor="#000" floodOpacity="0.18"/>
        </filter>
      </defs>
      <rect width={W} height={H} fill="#f9f9f9"/>
      <rect x={0} y={5} width={2329} height={H} fill="#fff" stroke="#e9e9e9" strokeWidth={1.5}/>

      <text x={18} y={81} fontFamily="'Liberation Serif', serif" fontSize={56} fill="#5b5b5b" textLength={1294} lengthAdjust="spacingAndGlyphs">Daily new confirmed COVID-19 deaths per million people</text>
      <text x={18} y={122} fontFamily={lato} fontSize={28.4} fill="#5b5b5b">7-day rolling average. For some countries the number of confirmed deaths is much lower than the true number of deaths. This is because of limited testing and</text>
      <text x={18} y={156} fontFamily={lato} fontSize={28.4} fill="#5b5b5b">challenges in the attribution of the cause of death.</text>

      <rect x={2175} y={36} width={123} height={70} fill="#002147"/>
      <rect x={2175} y={98} width={123} height={8} fill="#ce261e"/>
      <text x={2236.5} y={63} textAnchor="middle" fontFamily={lato} fontSize={24} fill="#fff">Our World</text>
      <text x={2236.5} y={91} textAnchor="middle" fontFamily={lato} fontSize={24} fill="#fff">in Data</text>

      <path d="M123,197 H180 a19,19 0 0 1 0,38 H123 Z" fill="#f2f2f2" stroke="#dcdee2" strokeWidth={2}/>
      <path d="M123,197 H38 a19,19 0 0 0 0,38 H123 Z" fill="#fff" stroke="#2f78e0" strokeWidth={2.4}/>
      <text x={71} y={224} textAnchor="middle" fontFamily={lato} fontWeight={700} fontSize={20} fill="#2f78e0">LINEAR</text>
      <text x={163} y={224} textAnchor="middle" fontFamily={lato} fontWeight={700} fontSize={20} fill="#4f6a8c">LOG</text>

      {yTicks.filter(t=>t>0).map(t=>(
        <line key={t} x1={65} x2={1988} y1={y(t)} y2={y(t)} stroke="#ddd" strokeWidth={1.5} strokeDasharray="7,5"/>
      ))}
      {yTicks.map(t=>(
        <text key={t} x={54} y={y(t)+12} textAnchor="end" fontFamily={lato} fontSize={32} fill="#666">{t}</text>
      ))}

      <line x1={x(tooltipDay)} x2={x(tooltipDay)} y1={275} y2={1437} stroke="#dcdcdc" strokeWidth={2}/>

      {seriesNames.map((n,i)=>(
        <g key={n}>
          <path d={line(seriesData[i]) as string} fill="none" stroke="#fff" strokeWidth={4.4} strokeLinejoin="round"/>
          <path d={line(seriesData[i]) as string} fill="none" stroke={seriesColors[n]} strokeWidth={3} strokeLinejoin="round"/>
        </g>
      ))}

      <line x1={65} x2={1988} y1={1437} y2={1437} stroke="#aaa" strokeWidth={2}/>
      {xTickDays.map((d,i)=>(
        <g key={d}>
          <line x1={x(d)} x2={x(d)} y1={1437} y2={1446} stroke="#aaa" strokeWidth={1.5}/>
          <text x={x(d)} y={1480} textAnchor={i===0?"start":i===xTickDays.length-1?"end":"middle"} fontFamily={lato} fontSize={32} fill="#666">{xTickLabels[i]}</text>
        </g>
      ))}

      {labelNames.map((n,i)=>{
        const ly = i<4 ? topLabelY[i] : labelY(i);
        const ex = i<4 ? elbowTop[i] : elbowLow(i);
        const sy = y(labelEndValues[i]);
        return (
          <g key={n}>
            <path d={`M1996,${sy} H${ex} V${ly} H2050`} fill="none" stroke="#bbb" strokeWidth={1.3}/>
            <text x={2058} y={ly+9} fontFamily={lato} fontSize={27} fill={seriesColors[n]}>{n}</text>
          </g>
        );
      })}

      <rect x={1556} y={622} width={411} height={756} rx={3} fill="#fff" fillOpacity={0.96} stroke="#e4e4e4" strokeWidth={1} filter="url(#ttShadow)"/>
      <text x={1572} y={668} fontFamily={lato} fontWeight={700} fontSize={29} fill="#333">{tooltipDate}</text>
      {tooltipNames.map((n,i)=>(
        <g key={n}>
          <circle cx={1582} cy={rowY(i)} r={10} fill={seriesColors[n]}/>
          <text x={1604} y={rowY(i)+10} fontFamily={lato} fontWeight={700} fontSize={29.3} fill={seriesColors[n]}>{n}</text>
          <text x={1951.5} y={rowY(i)+10} textAnchor="end" fontFamily={lato} fontWeight={700} fontSize={29.3} fill={seriesColors[n]}>{tooltipValues[i].toFixed(2)}</text>
        </g>
      ))}

      {tooltipNames.map((n,i)=>(
        <circle key={n} cx={x(tooltipDay)} cy={y(tooltipValues[i])} r={9.5} fill={seriesColors[n]}/>
      ))}
    </svg>
  );
}
